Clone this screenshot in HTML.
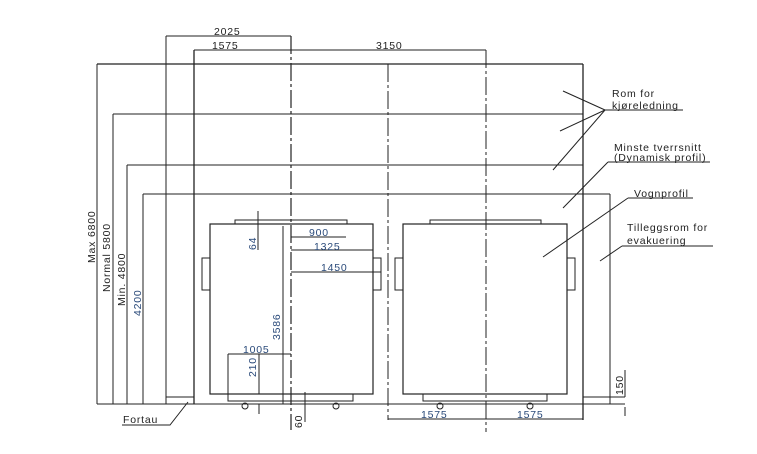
<!DOCTYPE html>
<html><head><meta charset="utf-8"><style>
html,body{margin:0;padding:0;background:#fff;}
svg{display:block;}
text{font-family:"Liberation Sans",sans-serif;font-size:10.5px;fill:#222;letter-spacing:0.8px;}
.b{fill:#2a4a7a;}
</style></head><body>
<svg width="757" height="454" viewBox="0 0 757 454" xmlns="http://www.w3.org/2000/svg">
<g stroke="#222" stroke-width="1" fill="none">
<!-- top dims -->
<line x1="166" y1="36" x2="291" y2="36"/>
<line x1="194" y1="50" x2="486" y2="50"/>
<line x1="166" y1="36" x2="166" y2="404"/>
<!-- outer box -->
<line x1="97" y1="64" x2="583" y2="64" stroke-width="1.3"/>
<line x1="194" y1="50" x2="194" y2="404" stroke-width="1.3"/>
<line x1="583" y1="64" x2="583" y2="420" stroke-width="1.3"/>
<line x1="113" y1="114" x2="583" y2="114"/>
<line x1="127" y1="165" x2="583" y2="165"/>
<line x1="143" y1="194" x2="610" y2="194"/>
<line x1="610" y1="194" x2="610" y2="404"/>
<line x1="97" y1="404" x2="625" y2="404"/>
<line x1="583" y1="397" x2="625" y2="397"/>
<!-- left vertical dims -->
<line x1="97" y1="64" x2="97" y2="404"/>
<line x1="113" y1="114" x2="113" y2="404"/>
<line x1="127" y1="165" x2="127" y2="404"/>
<line x1="143" y1="194" x2="143" y2="404"/>
<!-- fortau -->
<rect x="166" y="397" width="28" height="7"/>
<polyline points="188,402 170,425 122,425"/>
<!-- center lines -->
<line x1="291" y1="36" x2="291" y2="430" stroke-dasharray="18,3,3,3" stroke-width="1.2"/>
<line x1="388" y1="64" x2="388" y2="420" stroke-dasharray="18,3,3,3"/>
<line x1="486" y1="50" x2="486" y2="432" stroke-dasharray="18,3,3,3"/>
<!-- left train -->
<rect x="210" y="224" width="163" height="170" stroke-width="1.2"/>
<rect x="235" y="220" width="112" height="4"/>
<rect x="202" y="258" width="8" height="32"/>
<rect x="373" y="258" width="8" height="32"/>
<rect x="228" y="394" width="125" height="7"/>
<circle cx="245" cy="406" r="3"/><circle cx="336" cy="406" r="3"/>
<!-- right train -->
<rect x="403" y="224" width="164" height="170" stroke-width="1.2"/>
<rect x="430" y="220" width="111" height="4"/>
<rect x="395" y="258" width="8" height="32"/>
<rect x="567" y="258" width="8" height="32"/>
<rect x="423" y="394" width="124" height="7"/>
<circle cx="440" cy="406" r="3"/><circle cx="530" cy="406" r="3"/>
<!-- inner dims -->
<line x1="291" y1="237" x2="346" y2="237"/>
<line x1="291" y1="250" x2="373" y2="250"/>
<line x1="291" y1="272" x2="381" y2="272"/>
<line x1="258" y1="211" x2="258" y2="250"/>
<line x1="283" y1="226" x2="283" y2="404"/>
<line x1="228" y1="354" x2="291" y2="354"/>
<line x1="228" y1="354" x2="228" y2="394"/>
<line x1="259" y1="354" x2="259" y2="394"/>
<line x1="259" y1="404" x2="259" y2="414"/>
<line x1="305" y1="392" x2="305" y2="422"/>
<!-- bottom dims -->
<line x1="388" y1="419" x2="583" y2="419"/>
<line x1="625" y1="370" x2="625" y2="397"/>
<line x1="625" y1="407" x2="625" y2="416"/>
<!-- leaders -->
<line x1="605" y1="110" x2="563" y2="91"/>
<line x1="605" y1="110" x2="560" y2="131"/>
<line x1="605" y1="110" x2="553" y2="170"/>
<line x1="605" y1="110" x2="683" y2="110"/>
<line x1="608" y1="162" x2="563" y2="208"/>
<line x1="608" y1="162" x2="710" y2="162"/>
<line x1="628" y1="198" x2="543" y2="257"/>
<line x1="628" y1="198" x2="693" y2="198"/>
<line x1="622" y1="246" x2="600" y2="261"/>
<line x1="622" y1="246" x2="713" y2="246"/>
</g>
<text x="214" y="35">2025</text>
<text x="212" y="49">1575</text>
<text x="376" y="49">3150</text>
<text class="b" x="309" y="236">900</text>
<text class="b" x="314" y="250">1325</text>
<text class="b" x="321" y="271">1450</text>
<text class="b" x="243" y="353">1005</text>
<text class="b" x="421" y="418">1575</text>
<text class="b" x="517" y="418">1575</text>
<text transform="translate(256,250) rotate(-90)" class="b">64</text>
<text transform="translate(280,340) rotate(-90)" class="b">3586</text>
<text transform="translate(256,377) rotate(-90)" class="b">210</text>
<text transform="translate(302,428) rotate(-90)">60</text>
<text transform="translate(623,395) rotate(-90)">150</text>
<text transform="translate(95,263) rotate(-90)">Max 6800</text>
<text transform="translate(110,292) rotate(-90)">Normal 5800</text>
<text transform="translate(125,306) rotate(-90)">Min. 4800</text>
<text transform="translate(141,316) rotate(-90)" class="b">4200</text>
<text x="123" y="423">Fortau</text>
<text x="612" y="97">Rom for</text>
<text x="612" y="109">kjøreledning</text>
<text x="614" y="151">Minste tverrsnitt</text>
<text x="614" y="161">(Dynamisk profil)</text>
<text x="634" y="197">Vognprofil</text>
<text x="627" y="231">Tilleggsrom for</text>
<text x="627" y="244">evakuering</text>
</svg>
</body></html>
